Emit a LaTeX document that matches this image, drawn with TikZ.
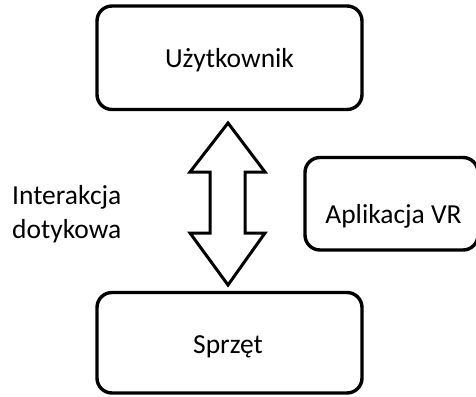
\documentclass[tikz,border=0pt]{standalone}
\usepackage{fontspec}
\setmainfont{Carlito}
\usetikzlibrary{calc}
\begin{document}
\begin{tikzpicture}[x=1pt,y=-1pt,
  box/.style={draw=black, line width=3.4pt, rounded corners=15pt, fill=white},
  lbl/.style={font=\fontsize{27.5}{33.5}\selectfont, text=black, inner sep=0pt},
  bigarrow/.style={draw=black, line width=3pt, line join=miter, fill=white}]
  \useasboundingbox (0,0) rectangle (476,396);
  % frames
  \draw[box] (97,6) rectangle (362,109.5);
  \draw[box] (97,292.5) rectangle (362,393);
  \draw[box] (305,157.5) rectangle (478,250);
  % labels
  \node[lbl, anchor=base] (user) at (229.5,67) {Użytkownik};
  \node[lbl, anchor=base] (hw) at (228,353) {Sprzęt};
  \node[lbl, anchor=base] (app) at (393.5,223) {Aplikacja VR};
  \node[lbl, anchor=base west, align=left] (touch) at (12,238) {Interakcja\\dotykowa};
  % two-way arrow between user and hardware
  \draw[bigarrow] (228,123) -- (265,172) -- (245,172) -- (245,233) -- (265,233)
    -- (228,285) -- (190,233) -- (210,233) -- (210,172) -- (190,172) -- cycle;
\end{tikzpicture}
\end{document}
